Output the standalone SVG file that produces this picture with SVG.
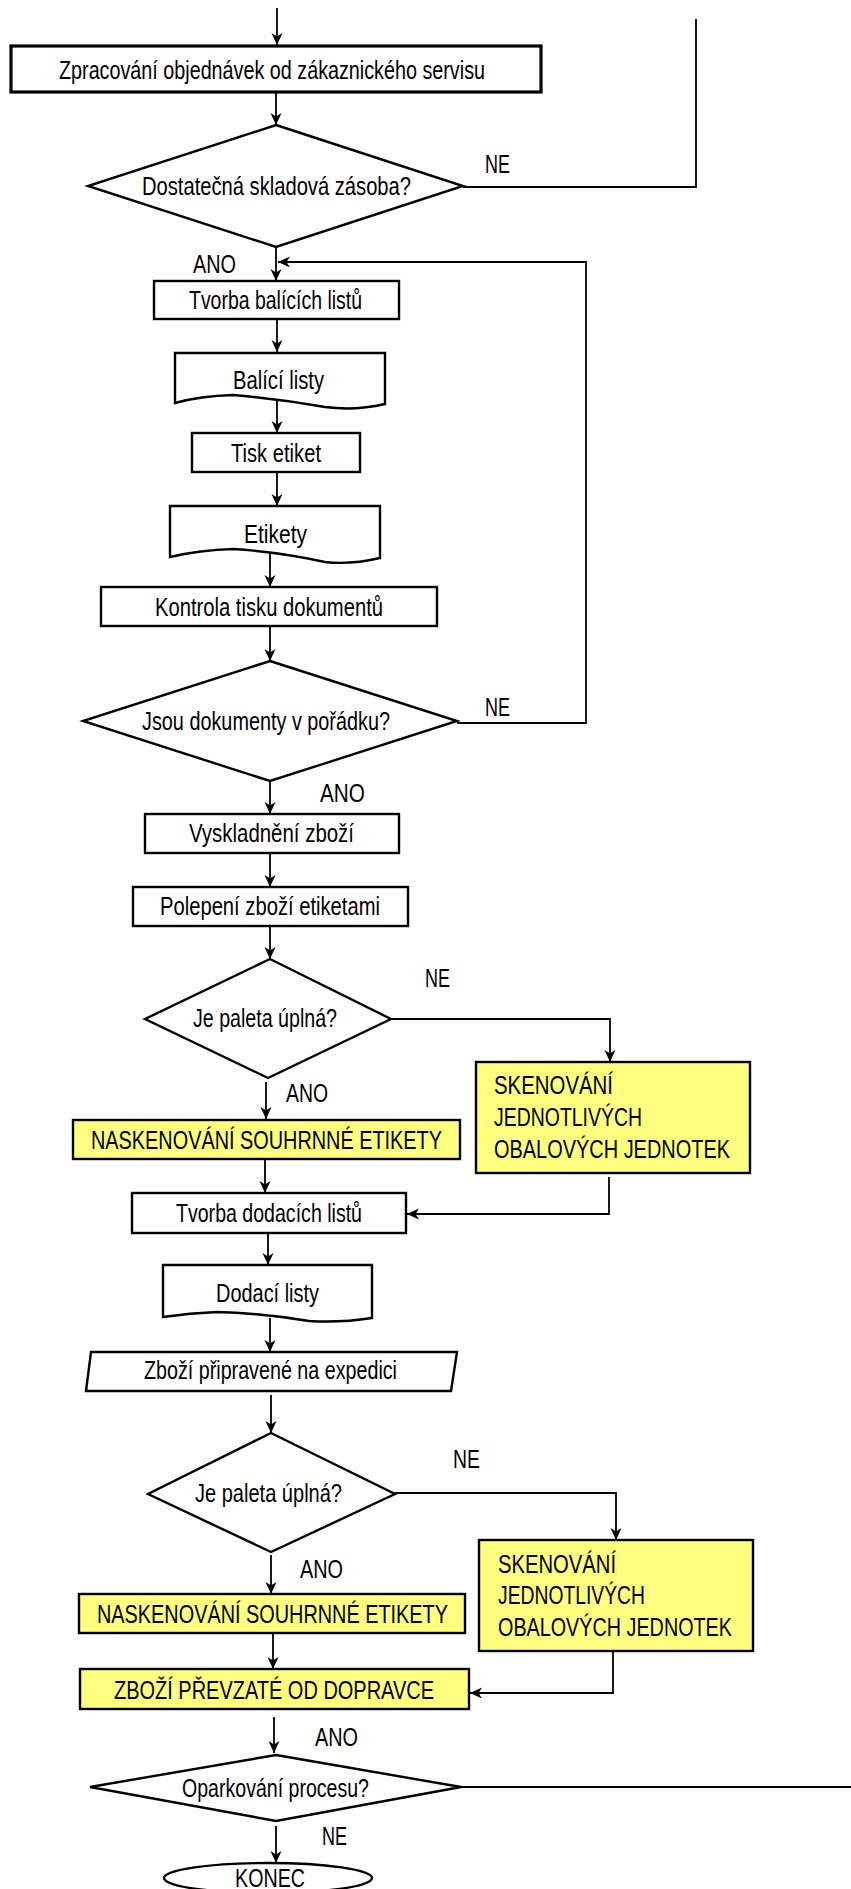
<svg xmlns="http://www.w3.org/2000/svg" width="851" height="1889" viewBox="0 0 851 1889">
<defs>
<marker id="ah" markerUnits="userSpaceOnUse" markerWidth="13" markerHeight="13" viewBox="0 0 13 13" refX="12" refY="6.5" orient="auto">
<path d="M0,1 L12,6.5 L0,12 L3.5,6.5 Z" fill="#000"/>
</marker>
<style>
.box{fill:#fff;stroke:#000;stroke-width:2.4}
.ybox{fill:#ffff80;stroke:#000;stroke-width:2.4}
.t{font-family:"Liberation Sans",Arial,sans-serif;font-size:25px;fill:#000}
.c{fill:none;stroke:#000;stroke-width:1.8}
.a{marker-end:url(#ah)}
</style>
</defs>
<rect width="851" height="1889" fill="#fff"/>

<g id="connectors">
<path class="c a" d="M277,8 V45"/>
<path class="c a" d="M276,93 V125"/>
<path class="c" d="M463,187 H696 V19"/>
<path class="c a" d="M276,247 V281"/>
<path class="c a" d="M457,723 H586 V262 H278"/>
<path class="c a" d="M277,320 V352"/>
<path class="c a" d="M277,400 V433"/>
<path class="c a" d="M277,472 V506"/>
<path class="c a" d="M270,553 V587"/>
<path class="c a" d="M270,627 V661"/>
<path class="c a" d="M270,781 V814"/>
<path class="c a" d="M270,853 V887"/>
<path class="c a" d="M270,926 V959"/>
<path class="c a" d="M391,1019 H610 V1062"/>
<path class="c a" d="M266,1082 V1119"/>
<path class="c a" d="M609,1177 V1214 H407"/>
<path class="c a" d="M265,1160 V1193"/>
<path class="c a" d="M268,1234 V1265"/>
<path class="c a" d="M270,1318 V1352"/>
<path class="c a" d="M271,1395 V1433"/>
<path class="c a" d="M395,1493 H616 V1540"/>
<path class="c a" d="M271,1555 V1594"/>
<path class="c a" d="M273,1634 V1669"/>
<path class="c a" d="M613,1652 V1693 H470"/>
<path class="c a" d="M274,1717 V1753"/>
<path class="c" d="M461,1787 H851"/>
<path class="c a" d="M276,1826 V1863"/>
</g>

<g id="n1"><rect class="box" x="11" y="46" width="530" height="46" style="stroke-width:3.2"/>
<text class="t" x="59" y="79" textLength="426" lengthAdjust="spacingAndGlyphs">Zpracování objednávek od zákaznického servisu</text></g>

<g id="d1"><polygon class="box" points="276,125 463,186 276,247 88,186"/>
<text class="t" x="142" y="195" textLength="269" lengthAdjust="spacingAndGlyphs">Dostatečná skladová zásoba?</text></g>

<g id="labels">
<text class="t" x="485" y="173" textLength="25" lengthAdjust="spacingAndGlyphs">NE</text>
<text class="t" x="193" y="273" textLength="43" lengthAdjust="spacingAndGlyphs">ANO</text>
<text class="t" x="485" y="716" textLength="25" lengthAdjust="spacingAndGlyphs">NE</text>
<text class="t" x="320" y="802" textLength="45" lengthAdjust="spacingAndGlyphs">ANO</text>
<text class="t" x="425" y="987" textLength="25" lengthAdjust="spacingAndGlyphs">NE</text>
<text class="t" x="286" y="1102" textLength="42" lengthAdjust="spacingAndGlyphs">ANO</text>
<text class="t" x="453" y="1468" textLength="27" lengthAdjust="spacingAndGlyphs">NE</text>
<text class="t" x="300" y="1578" textLength="43" lengthAdjust="spacingAndGlyphs">ANO</text>
<text class="t" x="315" y="1746" textLength="43" lengthAdjust="spacingAndGlyphs">ANO</text>
<text class="t" x="322" y="1845" textLength="25" lengthAdjust="spacingAndGlyphs">NE</text>
</g>

<g id="n2"><rect class="box" x="154" y="281" width="245" height="38"/>
<text class="t" x="189" y="309" textLength="173" lengthAdjust="spacingAndGlyphs">Tvorba balících listů</text></g>

<g id="doc1"><path class="box" d="M175,353 H385 V404 Q355,411 325,407 Q280,399 233,395 Q200,396 175,403 Z"/>
<text class="t" x="233" y="389" textLength="91" lengthAdjust="spacingAndGlyphs">Balící listy</text></g>

<g id="n3"><rect class="box" x="192" y="433" width="168" height="39"/>
<text class="t" x="231" y="462" textLength="90" lengthAdjust="spacingAndGlyphs">Tisk etiket</text></g>

<g id="doc2"><path class="box" d="M170,506 H380 V558 Q350,565 325,562 Q280,552 233,549 Q200,550 170,557 Z"/>
<text class="t" x="244" y="543" textLength="63" lengthAdjust="spacingAndGlyphs">Etikety</text></g>

<g id="n4"><rect class="box" x="101" y="587" width="336" height="39"/>
<text class="t" x="155" y="616" textLength="228" lengthAdjust="spacingAndGlyphs">Kontrola tisku dokumentů</text></g>

<g id="d2"><polygon class="box" points="270,661 457,721 270,781 83,721"/>
<text class="t" x="142" y="730" textLength="248" lengthAdjust="spacingAndGlyphs">Jsou dokumenty v pořádku?</text></g>

<g id="n5"><rect class="box" x="145" y="814" width="254" height="39"/>
<text class="t" x="189" y="842" textLength="165" lengthAdjust="spacingAndGlyphs">Vyskladnění zboží</text></g>

<g id="n6"><rect class="box" x="133" y="887" width="275" height="39"/>
<text class="t" x="160" y="915" textLength="220" lengthAdjust="spacingAndGlyphs">Polepení zboží etiketami</text></g>

<g id="d3"><polygon class="box" points="270,959 391,1019 268,1078 145,1019"/>
<text class="t" x="193" y="1027" textLength="144" lengthAdjust="spacingAndGlyphs">Je paleta úplná?</text></g>

<g id="y1"><rect class="ybox" x="73" y="1120" width="387" height="39"/>
<text class="t" x="91" y="1149" textLength="351" lengthAdjust="spacingAndGlyphs">NASKENOVÁNÍ SOUHRNNÉ ETIKETY</text></g>

<g id="y2"><rect class="ybox" x="476" y="1062" width="274" height="111"/>
<text class="t" x="494" y="1094" textLength="119" lengthAdjust="spacingAndGlyphs">SKENOVÁNÍ</text>
<text class="t" x="494" y="1126" textLength="148" lengthAdjust="spacingAndGlyphs">JEDNOTLIVÝCH</text>
<text class="t" x="494" y="1158" textLength="236" lengthAdjust="spacingAndGlyphs">OBALOVÝCH JEDNOTEK</text></g>

<g id="n7"><rect class="box" x="132" y="1193" width="274" height="40"/>
<text class="t" x="176" y="1222" textLength="186" lengthAdjust="spacingAndGlyphs">Tvorba dodacích listů</text></g>

<g id="doc3"><path class="box" d="M163,1265 H372 V1318 Q340,1323 309,1321 Q260,1313 217,1312 Q190,1313 163,1317 Z"/>
<text class="t" x="216" y="1302" textLength="103" lengthAdjust="spacingAndGlyphs">Dodací listy</text></g>

<g id="p1"><polygon class="box" points="91,1352 457,1352 451,1391 86,1391"/>
<text class="t" x="144" y="1379" textLength="253" lengthAdjust="spacingAndGlyphs">Zboží připravené na expedici</text></g>

<g id="d4"><polygon class="box" points="271,1433 395,1494 271,1552 148,1494"/>
<text class="t" x="195" y="1502" textLength="147" lengthAdjust="spacingAndGlyphs">Je paleta úplná?</text></g>

<g id="y3"><rect class="ybox" x="79" y="1594" width="386" height="39"/>
<text class="t" x="97" y="1623" textLength="351" lengthAdjust="spacingAndGlyphs">NASKENOVÁNÍ SOUHRNNÉ ETIKETY</text></g>

<g id="y4"><rect class="ybox" x="479" y="1540" width="274" height="111"/>
<text class="t" x="498" y="1573" textLength="118" lengthAdjust="spacingAndGlyphs">SKENOVÁNÍ</text>
<text class="t" x="498" y="1604" textLength="147" lengthAdjust="spacingAndGlyphs">JEDNOTLIVÝCH</text>
<text class="t" x="498" y="1636" textLength="234" lengthAdjust="spacingAndGlyphs">OBALOVÝCH JEDNOTEK</text></g>

<g id="y5"><rect class="ybox" x="80" y="1669" width="389" height="40"/>
<text class="t" x="114" y="1699" textLength="320" lengthAdjust="spacingAndGlyphs">ZBOŽÍ PŘEVZATÉ OD DOPRAVCE</text></g>

<g id="d5"><polygon class="box" points="276,1755 461,1787 276,1821 90,1787"/>
<text class="t" x="182" y="1797" textLength="187" lengthAdjust="spacingAndGlyphs">Oparkování procesu?</text></g>

<g id="end"><ellipse class="box" cx="268" cy="1878" rx="104" ry="15"/>
<text class="t" x="235" y="1887" textLength="70" lengthAdjust="spacingAndGlyphs">KONEC</text></g>
</svg>
